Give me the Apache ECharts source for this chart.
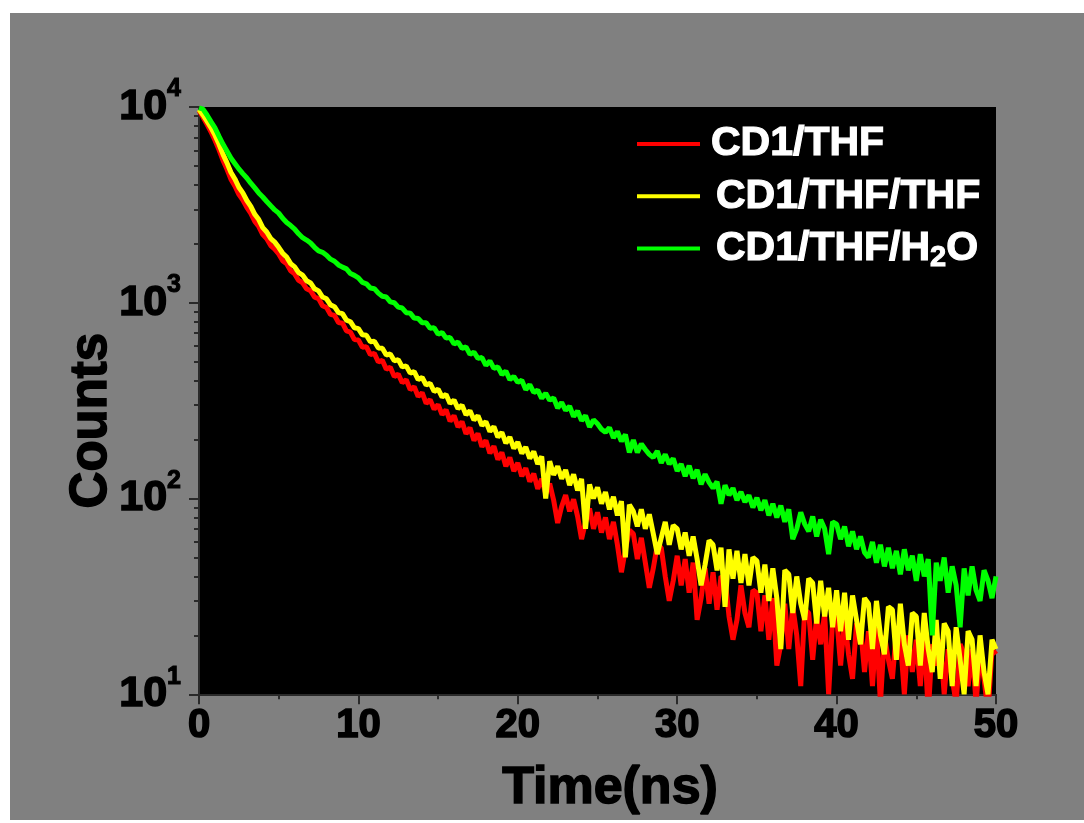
<!DOCTYPE html>
<html>
<head>
<meta charset="utf-8">
<script src="https://cdn.jsdelivr.net/npm/echarts@6/dist/echarts.min.js"></script>
<style>
html,body{margin:0;padding:0;background:#fff;width:1084px;height:823px;overflow:hidden}
#chart{position:absolute;left:10px;top:13px;width:1074px;height:807px}
</style>
</head>
<body>
<div id="chart"></div>
<script>
// Time axis (ns), one entry per sample
const timeNs = [
  0,0.25,0.5,0.75,1,1.25,1.5,1.75,2,2.25,2.5,2.75,3,3.25,3.5,3.75,4,4.25,4.5,4.75,
  5,5.25,5.5,5.75,6,6.25,6.5,6.75,7,7.25,7.5,7.75,8,8.25,8.5,8.75,9,9.25,9.5,9.75,
  10,10.25,10.5,10.75,11,11.25,11.5,11.75,12,12.25,12.5,12.75,13,13.25,13.5,13.75,14,14.25,14.5,14.75,
  15,15.25,15.5,15.75,16,16.25,16.5,16.75,17,17.25,17.5,17.75,18,18.25,18.5,18.75,19,19.25,19.5,19.75,
  20,20.25,20.5,20.75,21,21.25,21.5,21.75,22,22.25,22.5,22.75,23,23.25,23.5,23.75,24,24.25,24.5,24.75,
  25,25.25,25.5,25.75,26,26.25,26.5,26.75,27,27.25,27.5,27.75,28,28.25,28.5,28.75,29,29.25,29.5,29.75,
  30,30.25,30.5,30.75,31,31.25,31.5,31.75,32,32.25,32.5,32.75,33,33.25,33.5,33.75,34,34.25,34.5,34.75,
  35,35.25,35.5,35.75,36,36.25,36.5,36.75,37,37.25,37.5,37.75,38,38.25,38.5,38.75,39,39.25,39.5,39.75,
  40,40.25,40.5,40.75,41,41.25,41.5,41.75,42,42.25,42.5,42.75,43,43.25,43.5,43.75,44,44.25,44.5,44.75,
  45,45.25,45.5,45.75,46,46.25,46.5,46.75,47,47.25,47.5,47.75,48,48.25,48.5,48.75,49,49.25,49.5,49.75,
  50
];

// Counts (same sampling as timeNs)
const countsCD1THF = [
  9600,8860,8150,7480,6760,6060,5350,4820,4280,3950,3580,3350,3070,2860,2600,2450,2230,2125,1960,1880,
  1775,1640,1580,1458,1405,1300,1265,1178,1152,1068,1050,965,945,872,862,792,786,718,708,648,
  645,592,597,543,551,498,508,458,468,420,432,390,404,360,372,332,347,306,320,286,
  302,268,284,248,265,232,247,214,230,198,215,184,198,170,185,158,172,146,162,138,
  152,130,143,122,134,112,126,106,119,98,75,91,104,86,99,81,62,76,89,70,
  85,67,80,62,76,58,42,55,69,66,49,63,47,35,44,58,56,40,30,38,
  51,36,49,33,47,24,31,44,29,42,27,40,39,25,19,24,36,26,22,34,
  33,21,32,19,31,14,18,29,17,28,20,11,27,26,15,25,18,26,10,24,
  25,14,24,16,12,23,22,13,21,11,22,9,20,15,12,21,19,10,20,13,
  19,11,20,8,18,14,19,10,17,12,9,18,16,11,17,9,16,12,8,17,
  16
];
const countsCD1THFTHF = [
  9700,9100,8460,7850,7180,6470,5740,5200,4640,4290,3890,3640,3330,3110,2830,2660,2420,2300,2130,2040,
  1920,1790,1710,1585,1525,1425,1385,1295,1262,1178,1150,1070,1048,975,955,890,880,815,800,745,
  738,686,682,632,636,588,586,541,548,505,512,470,476,437,445,405,415,380,388,352,
  362,330,340,306,318,288,300,268,281,252,265,236,247,220,233,206,218,192,206,180,
  194,170,183,160,174,150,164,100,155,132,146,126,140,117,133,110,126,70,118,100,
  114,94,108,88,102,82,97,50,93,86,72,88,70,83,66,52,63,76,58,73,
  70,55,67,51,64,49,36,46,61,58,43,56,28,55,39,54,37,52,36,50,
  48,33,46,30,44,31,17,43,41,26,40,29,24,39,37,23,38,25,35,22,
  34,21,33,19,32,24,18,31,29,17,30,20,16,28,27,15,29,18,14,26,
  25,14,26,17,13,24,12,23,21,11,22,15,10,21,19,11,20,13,10,19,
  17
];
const countsCD1THFH2O = [
  9900,9750,9100,8420,7820,7100,6470,5960,5490,5150,4830,4570,4340,4080,3860,3640,3470,3290,3130,2980,
  2870,2700,2570,2480,2380,2250,2150,2090,2020,1920,1840,1810,1750,1670,1630,1560,1520,1490,1410,1380,
  1340,1270,1250,1190,1180,1120,1080,1070,1010,1000,950,940,890,885,835,830,790,790,740,745,
  690,705,660,665,615,630,585,595,545,560,520,525,478,505,462,470,430,448,405,420,
  392,402,360,382,348,358,325,345,318,326,290,310,282,296,262,280,250,265,232,252,
  241,226,218,230,204,220,196,212,172,199,172,190,178,168,162,175,152,168,150,160,
  138,150,130,147,127,140,118,133,121,113,122,94,117,104,113,98,108,96,104,90,
  101,87,98,82,94,80,92,76,88,62,70,85,74,68,81,64,78,70,52,76,
  74,62,72,57,68,55,64,53,50,60,47,58,45,56,44,54,41,55,43,51,
  38,52,40,49,20,47,38,50,33,45,36,22,44,32,45,34,30,43,38,31,
  40
];

const seriesNames = ['CD1/THF', 'CD1/THF/THF', 'CD1/THF/H2O'];
const seriesColors = ['#ff0000', '#ffff00', '#00ff00'];
const xTickValues = [0, 10, 20, 30, 40, 50];
const yMajorTicks = [10, 100, 1000, 10000];
const yMinorTicks = [20,30,40,50,60,70,80,90,200,300,400,500,600,700,800,900,2000,3000,4000,5000,6000,7000,8000,9000];

const FONT = "'Liberation Sans', Arial, sans-serif";
const AXIS_COLOR = '#2a2a2a';

const chart = echarts.init(document.getElementById('chart'), null, {renderer: 'canvas'});

function mk(arr) { return timeNs.map((t, i) => [t, arr[i]]); }
const allCounts = [countsCD1THF, countsCD1THFTHF, countsCD1THFH2O];

const legendText = {color: '#fff', fontFamily: FONT, fontWeight: 'bold', fontSize: 41, lineHeight: 48, textBorderColor: '#fff', textBorderWidth: 1.2};

const option = {
  backgroundColor: '#808080',
  animation: false,
  grid: {left: 189, top: 94, width: 797, height: 588, show: true, backgroundColor: '#000000', borderWidth: 0},
  legend: {
    orient: 'vertical',
    left: 622,
    top: 105,
    itemWidth: 63,
    itemHeight: 4,
    itemGap: 10,
    icon: 'rect',
    data: seriesNames,
    formatter: function (name) {
      if (name === 'CD1/THF/H2O') return '{b|CD1/THF/H}{s|2}{o|O}';
      if (name === 'CD1/THF') return '{a|' + name + '}';
      return '{b|' + name + '}';
    },
    textStyle: {
      color: '#fff',
      rich: {
        a: Object.assign({}, legendText, {padding: [0,0,0,6]}),
        b: Object.assign({}, legendText, {padding: [0,0,0,11]}),
        o: Object.assign({}, legendText),
        s: {color: '#fff', fontFamily: FONT, fontWeight: 'bold', fontSize: 29, lineHeight: 29, verticalAlign: 'bottom', textBorderColor: '#fff', textBorderWidth: 1}
      }
    }
  },
  xAxis: {
    type: 'value', min: 0, max: 50, interval: 10,
    name: 'Time(ns)', nameLocation: 'middle', nameGap: 68,
    nameTextStyle: {color: '#000', fontFamily: FONT, fontWeight: 'bold', fontSize: 52, padding: [0,0,0,25], textBorderColor: '#000', textBorderWidth: 1.5},
    axisLine: {show: true, onZero: false, lineStyle: {color: AXIS_COLOR, width: 2}},
    axisTick: {show: true, length: 10, lineStyle: {color: AXIS_COLOR, width: 2}},
    minorTick: {show: true, splitNumber: 2, length: 5, lineStyle: {color: AXIS_COLOR, width: 2}},
    splitLine: {show: false},
    minorSplitLine: {show: false},
    axisLabel: {
      customValues: xTickValues,
      color: '#000', fontFamily: FONT, fontWeight: 'bold', fontSize: 40, margin: 12,
      textBorderColor: '#000', textBorderWidth: 1.6
    }
  },
  yAxis: [{
    type: 'log', logBase: 10, min: 10, max: 10000, position: 'left',
    name: 'Counts', nameLocation: 'middle', nameRotate: 90, nameGap: 82, nameMoveOverlap: false,
    nameTextStyle: {color: '#000', fontFamily: FONT, fontWeight: 'bold', fontSize: 51, padding: [0,40,0,0], textBorderColor: '#000', textBorderWidth: 1.5},
    axisLine: {show: true, onZero: false, lineStyle: {color: AXIS_COLOR, width: 2}},
    axisTick: {show: true, length: 10, customValues: yMajorTicks, lineStyle: {color: AXIS_COLOR, width: 2}},
    splitLine: {show: false},
    axisLabel: {
      customValues: yMajorTicks,
      margin: 18,
      formatter: function (v) { return '{b|10}{s|' + Math.round(Math.log10(v)) + '}'; },
      rich: {
        b: {color: '#000', fontFamily: FONT, fontWeight: 'bold', fontSize: 43, lineHeight: 60, verticalAlign: 'middle', textBorderColor: '#000', textBorderWidth: 1.6},
        s: {color: '#000', fontFamily: FONT, fontWeight: 'bold', fontSize: 25, lineHeight: 25, verticalAlign: 'top', textBorderColor: '#000', textBorderWidth: 1}
      }
    }
  }, {
    type: 'log', logBase: 10, min: 10, max: 10000, position: 'left', offset: 0,
    axisLine: {show: false},
    axisTick: {show: true, length: 5, customValues: yMinorTicks, lineStyle: {color: AXIS_COLOR, width: 2}},
    axisLabel: {show: false},
    splitLine: {show: false}
  }],
  series: seriesNames.map((name, i) => ({
    name: name,
    type: 'line',
    yAxisIndex: 0,
    data: mk(allCounts[i]),
    showSymbol: false,
    symbol: 'none',
    clip: true,
    color: seriesColors[i],
    lineStyle: {color: seriesColors[i], width: 5},
    emphasis: {disabled: true}
  }))
};
chart.setOption(option);
</script>
</body>
</html>
